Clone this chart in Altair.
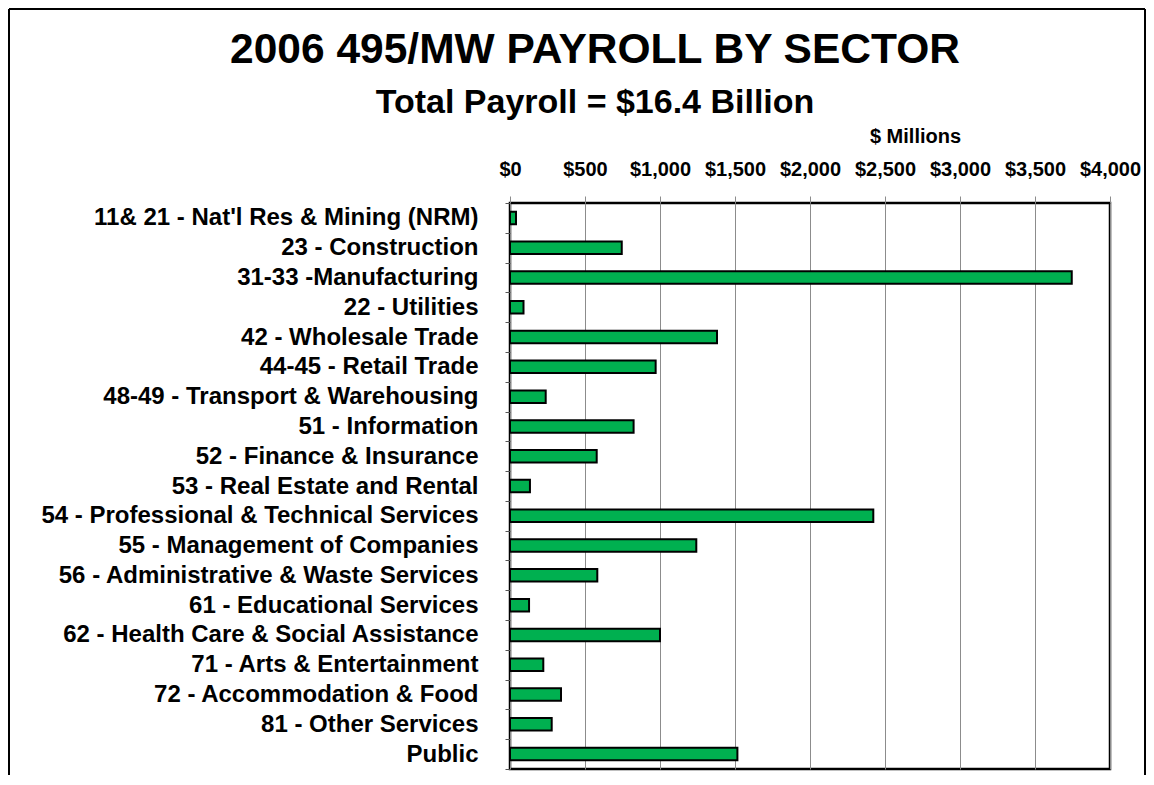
import altair as alt
import pandas as pd

sectors = [
    "11& 21 - Nat'l Res & Mining (NRM)",
    "23 - Construction",
    "31-33 -Manufacturing",
    "22 - Utilities",
    "42 - Wholesale Trade",
    "44-45 - Retail Trade",
    "48-49 - Transport & Warehousing",
    "51 - Information",
    "52 - Finance & Insurance",
    "53 - Real Estate and Rental",
    "54 - Professional & Technical Services",
    "55 - Management of Companies",
    "56 - Administrative & Waste Services",
    "61 - Educational Services",
    "62 - Health Care & Social Assistance",
    "71 - Arts & Entertainment",
    "72 - Accommodation & Food",
    "81 - Other Services",
    "Public",
]
payroll = [40, 745, 3745, 90, 1380, 971, 238, 824, 578, 133,
           2422, 1242, 582, 127, 1000, 222, 340, 278, 1516]
x_ticks = [0, 500, 1000, 1500, 2000, 2500, 3000, 3500, 4000]

df = pd.DataFrame({"sector": sectors, "payroll": payroll})

FONT = "Liberation Sans"

bars = alt.Chart(df).mark_bar(
    size=12.5, fill="#00B050", stroke="black", strokeWidth=2
).encode(
    x=alt.X(
        "payroll:Q",
        scale=alt.Scale(domain=[0, 4000], nice=False, zero=True),
        axis=alt.Axis(
            orient="top", values=x_ticks, format="$,.0f",
            title="$ Millions", titleX=405, titleY=-61,
            titleAlign="center", titleBaseline="alphabetic",
            titleFontSize=20, titleFontWeight="bold", titleColor="black",
            labelFontSize=20, labelFontWeight="bold", labelColor="black",
            labelPadding=17, labelFlush=False, labelOverlap=False,
            tickSize=7, tickColor="#8c8c8c",
            gridColor="#8c8c8c", gridWidth=1, domain=False,
        ),
    ),
    y=alt.Y(
        "sector:N", sort=None,
        scale=alt.Scale(paddingInner=0, paddingOuter=0),
        axis=alt.Axis(
            title=None, tickBand="extent", tickSize=5, tickColor="#555555",
            labelFontSize=24, labelFontWeight="bold", labelColor="black",
            labelPadding=27, labelLimit=700, domain=False, grid=False,
        ),
    ),
)

frame_src = pd.DataFrame({"k": [0]})
frame_left = alt.Chart(frame_src).mark_rule(color="black", strokeWidth=2).encode(
    x=alt.value(-501), y=alt.value(-194), y2=alt.value(575)
)
frame_top = alt.Chart(frame_src).mark_rule(color="black", strokeWidth=2).encode(
    x=alt.value(-501), x2=alt.value(635), y=alt.value(-194)
)
frame_right = alt.Chart(frame_src).mark_rule(color="black", strokeWidth=2).encode(
    x=alt.value(635), y=alt.value(-194), y2=alt.value(575)
)

chart = alt.layer(bars, frame_left, frame_top, frame_right).properties(
    width=600,
    height=566,
    padding={"left": 502, "top": 195, "right": 36, "bottom": 6},
    autosize=alt.AutoSizeParams(type="none"),
    title=alt.Title(
        text="2006 495/MW PAYROLL BY SECTOR",
        subtitle="Total Payroll = $16.4 Billion",
        fontSize=42.5, fontWeight="bold", color="black", font=FONT,
        subtitleFontSize=34, subtitleFontWeight="bold", subtitleColor="black",
        subtitleFont=FONT, subtitlePadding=15,
        anchor="middle", dx=-215, dy=120, offset=8,
    ),
).configure(
    font=FONT,
).configure_view(
    stroke="black", strokeWidth=2.5,
)

chart.save("out.html", embed_options={"renderer": "svg", "actions": False})
